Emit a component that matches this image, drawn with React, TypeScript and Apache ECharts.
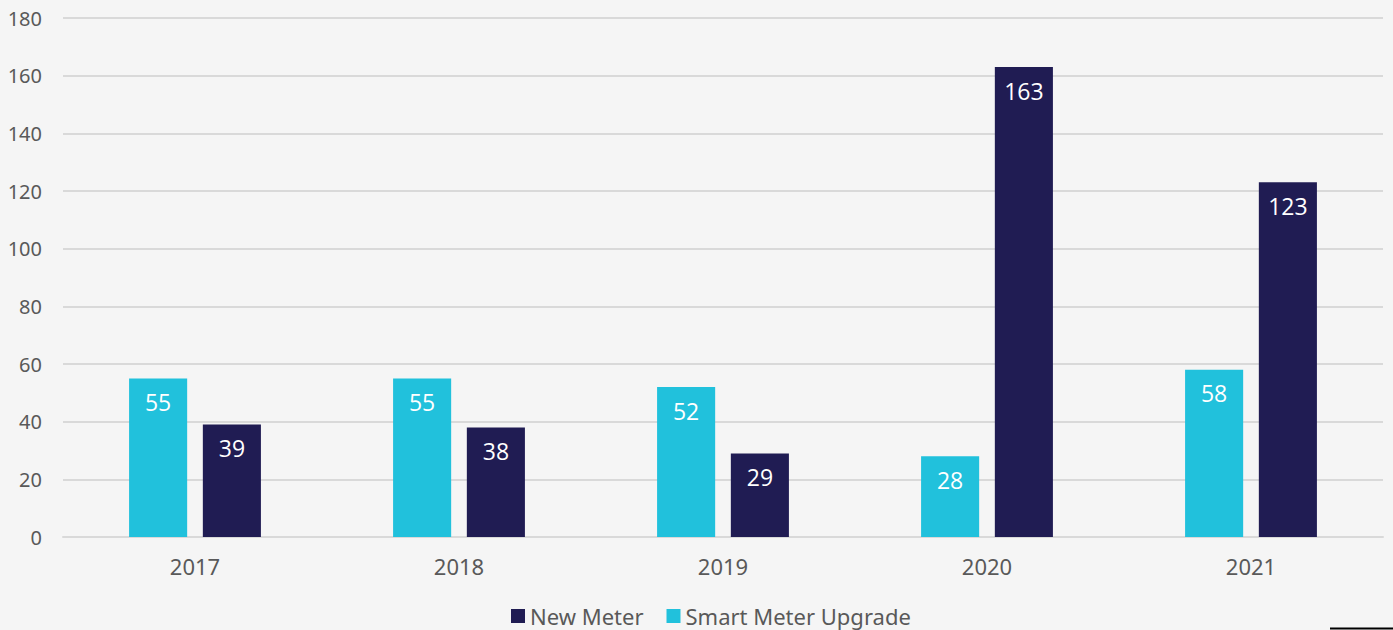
import React, { useEffect, useRef } from "react";
import * as echarts from "echarts";

const categories = ["2017", "2018", "2019", "2020", "2021"];
const smartMeterUpgrade = [55, 55, 52, 28, 58];
const newMeter = [39, 38, 29, 163, 123];
const yTicks = { min: 0, max: 180, interval: 20 };

export default function App() {
  const ref = useRef<HTMLDivElement>(null);
  useEffect(() => {
    document.body.style.margin = "0";
    const chart = echarts.init(ref.current!, null, { renderer: "svg" });
    const labelStyle = {
      show: true,
      position: "insideTop" as const,
      distance: 12,
      color: "#ffffff",
      fontSize: 23,
      fontFamily: "Open Sans",
    };
    chart.setOption({
      animation: false,
      backgroundColor: "#f5f5f5",
      textStyle: { fontFamily: "Noto Sans" },
      grid: { left: 63, right: 10, top: 18, bottom: 93, containLabel: false },
      legend: {
        data: ["New Meter", "Smart Meter Upgrade"],
        top: 605,
        left: 511,
        padding: 0,
        icon: "rect",
        itemWidth: 14,
        itemHeight: 14,
        itemGap: 23,
        textStyle: { fontSize: 22, color: "#595959", fontFamily: "Noto Sans" },
      },
      xAxis: {
        type: "category",
        data: categories,
        axisLine: { lineStyle: { color: "#d9d9d9", width: 2 } },
        axisTick: { show: false },
        axisLabel: { fontSize: 22, color: "#595959", margin: 18, fontFamily: "Noto Sans" },
      },
      yAxis: {
        type: "value",
        min: yTicks.min,
        max: yTicks.max,
        interval: yTicks.interval,
        axisLine: { show: false },
        axisTick: { show: false },
        splitLine: { lineStyle: { color: "#d9d9d9", width: 2 } },
        axisLabel: { fontSize: 20, color: "#595959", margin: 21, fontFamily: "Noto Sans" },
      },
      series: [
        {
          name: "Smart Meter Upgrade",
          type: "bar",
          data: smartMeterUpgrade,
          barWidth: "22%",
          barGap: "27%",
          itemStyle: { color: "#21c1dc" },
          label: labelStyle,
        },
        {
          name: "New Meter",
          type: "bar",
          data: newMeter,
          barWidth: "22%",
          itemStyle: { color: "#201c53" },
          label: labelStyle,
        },
      ],
      graphic: [
        {
          type: "line",
          shape: { x1: 1330, y1: 628.5, x2: 1393, y2: 628.5 },
          style: { stroke: "#000000", lineWidth: 2 },
        },
      ],
    });
    return () => chart.dispose();
  }, []);
  return (
    <div
      ref={ref}
      style={{ position: "absolute", left: 0, top: 0, width: 1393, height: 630 }}
    />
  );
}
